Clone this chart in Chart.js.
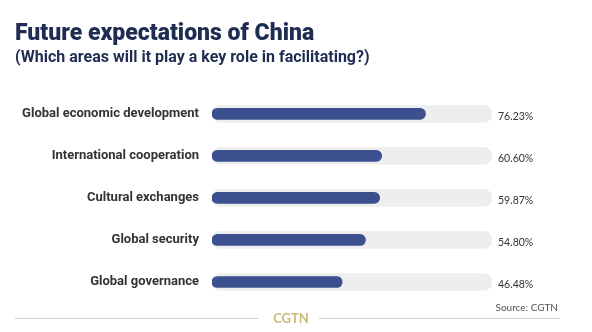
<!DOCTYPE html>
<html lang="en">
<head>
  <meta charset="UTF-8" />
  <title>Future expectations of China</title>
  <script src="https://cdn.jsdelivr.net/npm/chart.js"></script>
  <style>
    body { margin: 0; background: #fff; }
    #wrap { width: 592px; height: 332px; position: relative; }
  </style>
</head>
<body>
  <div id="wrap"><canvas id="chart"></canvas></div>

  <script>
    // data
    const areas = ["Global economic development", "International cooperation", "Cultural exchanges", "Global security", "Global governance"];
    const shares = [76.23, 60.60, 59.87, 54.80, 46.48];
    const full = [100, 100, 100, 100, 100];

    // value labels, source note and CGTN footer
    const extras = {
      id: "extras",
      afterDatasetsDraw(chart) {
        const { ctx, scales: { x, y } } = chart;
        ctx.save();
        ctx.fillStyle = "#333";
        ctx.font = "10.5px Lato";
        ctx.textBaseline = "middle";
        ctx.textAlign = "left";
        shares.forEach((v, i) => {
          ctx.fillText(v.toFixed(2) + "%", x.getPixelForValue(100) + 6, y.getPixelForValue(i) + 3);
        });

        ctx.fillStyle = "#555";
        ctx.font = "10px Lato";
        ctx.textAlign = "right";
        ctx.fillText("Source: CGTN", 558, 308);

        ctx.strokeStyle = "#d0d0d0";
        ctx.lineWidth = 1;
        ctx.beginPath();
        ctx.moveTo(15, 318.5); ctx.lineTo(258, 318.5);
        ctx.moveTo(319, 318.5); ctx.lineTo(560, 318.5);
        ctx.stroke();

        ctx.fillStyle = "#c9b97a";
        ctx.font = "bold 13px Lato";
        ctx.textAlign = "center";
        ctx.fillText("CGTN", 291, 319);
        ctx.restore();
      }
    };

    new Chart(document.getElementById("chart"), {
      type: "bar",
      data: {
        labels: areas,
        datasets: [
          {
            data: shares,
            backgroundColor: "#3c4f8e",
            barThickness: 11,
            borderRadius: 6,
            borderSkipped: false,
            grouped: false
          },
          {
            data: full,
            backgroundColor: "#eeeeee",
            barThickness: 17,
            borderRadius: 9,
            borderSkipped: false,
            grouped: false
          }
        ]
      },
      options: {
        indexAxis: "y",
        responsive: true,
        maintainAspectRatio: false,
        animation: false,
        layout: { padding: { left: 15, right: 100, top: 0, bottom: 29 } },
        scales: {
          x: { display: false, min: 0, max: 100 },
          y: {
            grid: { display: false },
            border: { display: false },
            ticks: {
              color: "#333",
              font: { family: "Roboto", weight: "bold", size: 13 },
              padding: 5
            },
            afterFit(axis) { axis.width = 197; }
          }
        },
        plugins: {
          legend: { display: false },
          tooltip: { enabled: false },
          title: {
            display: true,
            text: "Future expectations of China",
            align: "start",
            color: "#1f2d52",
            font: { family: "Roboto", weight: "900", size: 23 },
            padding: { top: 20, bottom: 0 }
          },
          subtitle: {
            display: true,
            text: "(Which areas will it play a key role in facilitating?)",
            align: "start",
            color: "#1f2d52",
            font: { family: "Roboto", weight: "bold", size: 16 },
            padding: { top: 1, bottom: 25 }
          }
        }
      },
      plugins: [extras]
    });
  </script>
</body>
</html>
